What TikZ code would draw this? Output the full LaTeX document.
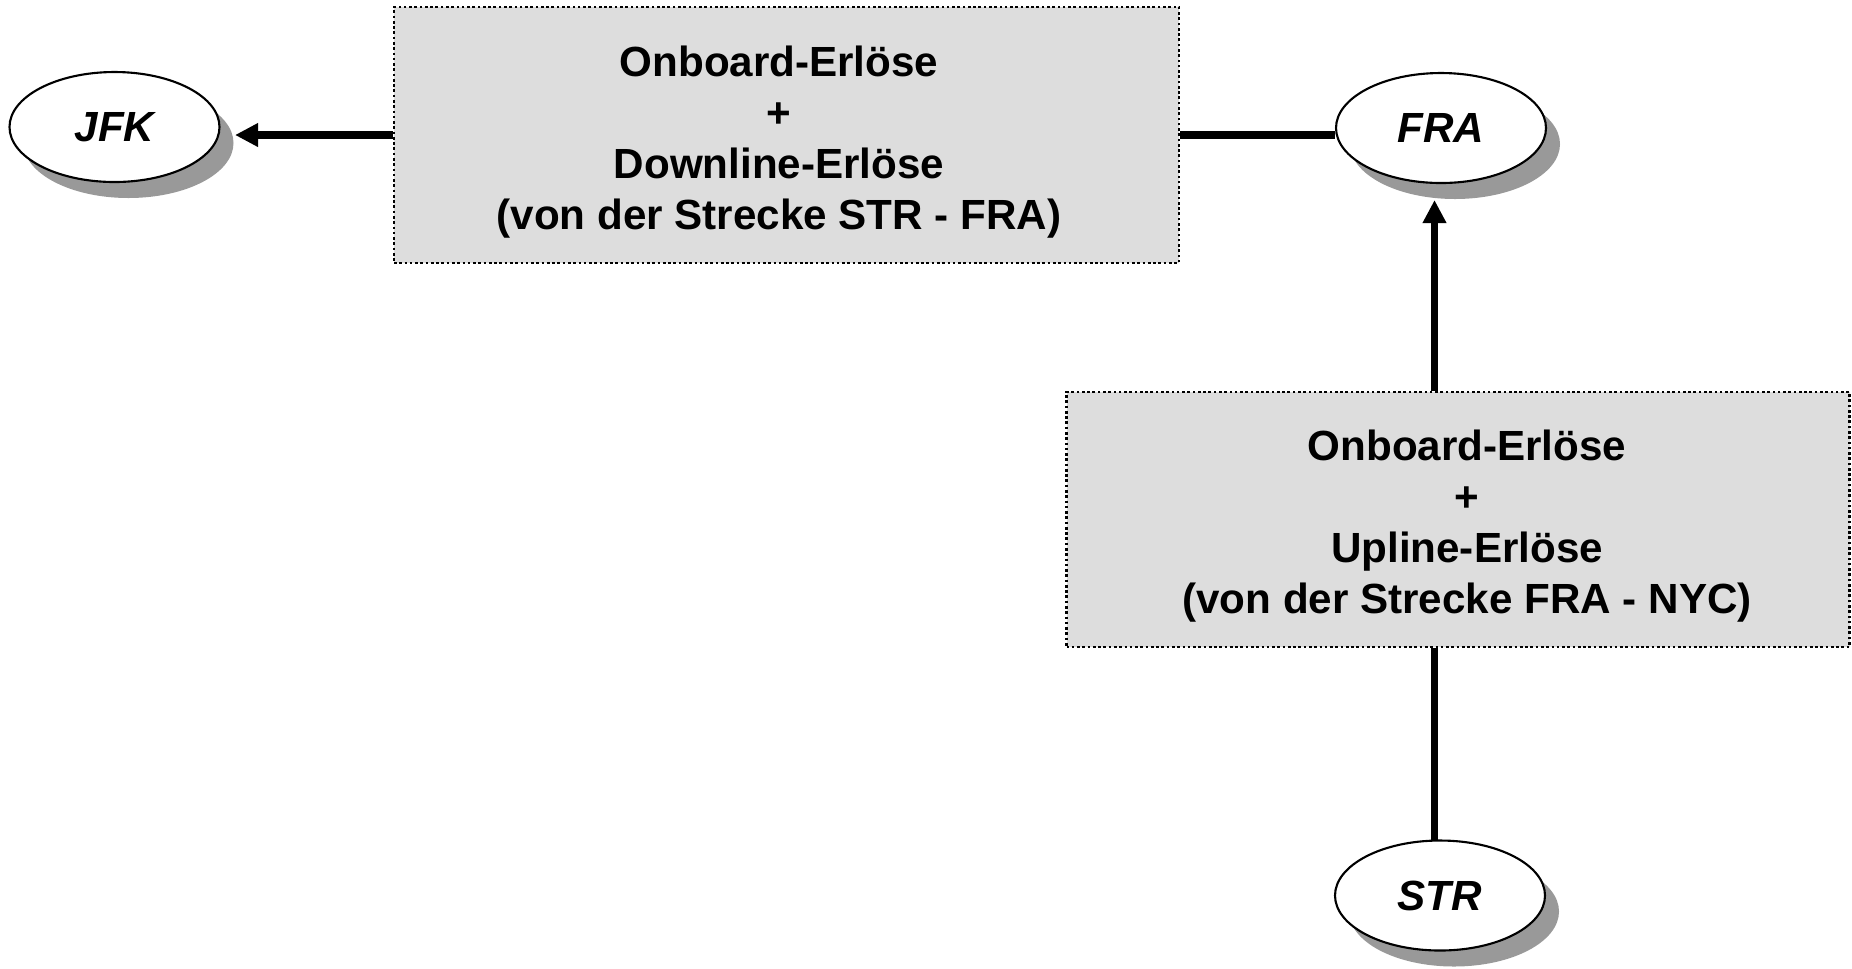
\documentclass[tikz,border=0pt]{standalone}
\usepackage{fontspec}
\setmainfont{Liberation Sans}
\usetikzlibrary{shapes.geometric,shadows,arrows.meta}

\definecolor{boxfill}{HTML}{DDDDDD}
\definecolor{shadowgray}{HTML}{999999}

\tikzset{
  airport/.style={ellipse, draw, line width=0.6pt, fill=white,
    minimum width=21mm, minimum height=11mm, inner sep=0pt,
    font=\fontsize{12}{14.5}\selectfont\bfseries\itshape,
    drop shadow={shadow xshift=1.4mm, shadow yshift=-1.6mm,
      fill=shadowgray, opacity=1}},
  revenuebox/.style={rectangle, draw, fill=boxfill, line width=0.75pt,
    dash pattern=on 0.75pt off 0.75pt, inner sep=0pt},
  revenuetext/.style={align=center, inner sep=0pt,
    font=\fontsize{12}{14.5}\selectfont\bfseries},
  flow/.style={line width=2pt},
  flowarrow/.style={flow, -{Triangle[length=6.6pt, width=6.4pt]}}
}

\begin{document}
\begin{tikzpicture}[x=0.1mm, y=-0.1mm]
  \useasboundingbox (0,0) rectangle (1852,968);

  % airports
  \node[airport] (jfk) at (114.5,127) {JFK};
  \node[airport] (fra) at (1441,128) {FRA};
  \node[airport] (str) at (1440,895.5) {STR};

  % revenue boxes
  \node[revenuebox, minimum width=78.5mm, minimum height=25.6mm] (box1) at (786.5,135) {};
  \node[revenuetext] (box1text) at (779,142) {Onboard-Erlöse\\+\\Downline-Erlöse\\(von der Strecke STR - FRA)};

  \node[revenuebox, minimum width=78.3mm, minimum height=25.5mm] (box2) at (1458,519.5) {};
  \node[revenuetext] (box2text) at (1467,526.5) {Onboard-Erlöse\\+\\Upline-Erlöse\\(von der Strecke FRA - NYC)};

  % arrow ends next to the shadows
  \coordinate (jfkin) at (235,135);
  \coordinate (frain) at (1434.5,200);

  % connectors
  \draw[flowarrow] (box1.west) -- (jfkin);
  \draw[flow] (box1.east) -- (box1.east -| fra.west);
  \draw[flowarrow] (box2.north -| frain) -- (frain);
  \draw[flow] (box2.south -| frain) -- ([yshift=-0.2mm]str.north -| frain);
\end{tikzpicture}
\end{document}
